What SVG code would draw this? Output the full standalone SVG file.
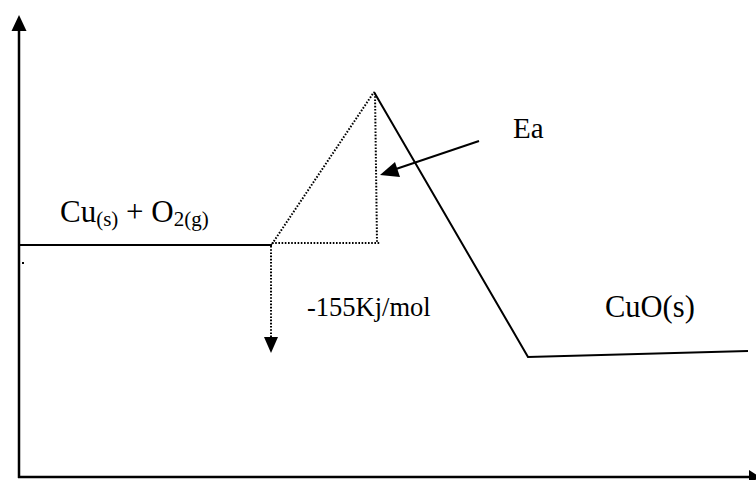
<svg xmlns="http://www.w3.org/2000/svg" width="756" height="480" viewBox="0 0 756 480">
<style>
.ax{stroke:#000;stroke-width:2.5;fill:none}
.ln{stroke:#000;stroke-width:2;fill:none}
.dt{stroke:#000;stroke-width:2;fill:none;stroke-dasharray:1.6 1.6}
.t{font-family:"Liberation Serif","Times New Roman",serif;fill:#000}
</style>
<rect width="756" height="480" fill="#fff"/>
<g id="axes">
<line class="ax" x1="19" y1="478" x2="19" y2="28"/>
<polygon points="19,15 11.5,31 26.5,31"/>
<line class="ax" x1="18" y1="477" x2="752" y2="477"/>
<polygon points="760,477 749,470 749,484"/>
</g>
<g id="connectors">
<line class="ln" x1="19" y1="245" x2="272" y2="245"/>
<polyline class="ln" points="374,92 528,357 748,351"/>
<line class="dt" x1="272" y1="244" x2="374" y2="92"/>
<line class="dt" x1="375" y1="93" x2="377" y2="242"/>
<line class="dt" x1="272" y1="243" x2="380" y2="243"/>
<line class="dt" x1="271" y1="246" x2="271" y2="340"/>
<polygon points="271,353 264,337 278,337"/>
<line class="ln" x1="479" y1="141" x2="393" y2="170" stroke-width="2.6"/>
<polygon points="380,175 395,162 400,177"/>
<rect x="22" y="262" width="2" height="2"/>
</g>
<g id="reactants">
<text class="t" x="60" y="222" font-size="31">Cu<tspan font-size="21" dy="4">(s)</tspan><tspan dy="-4"> + O</tspan><tspan font-size="21" dy="4">2(g)</tspan></text>
</g>
<g id="ea"><text class="t" x="513" y="138" font-size="29">Ea</text></g>
<g id="dh"><text class="t" x="307" y="316" font-size="26.5">-155Kj/mol</text></g>
<g id="products"><text class="t" x="605" y="317" font-size="30.5">CuO(s)</text></g>
</svg>
